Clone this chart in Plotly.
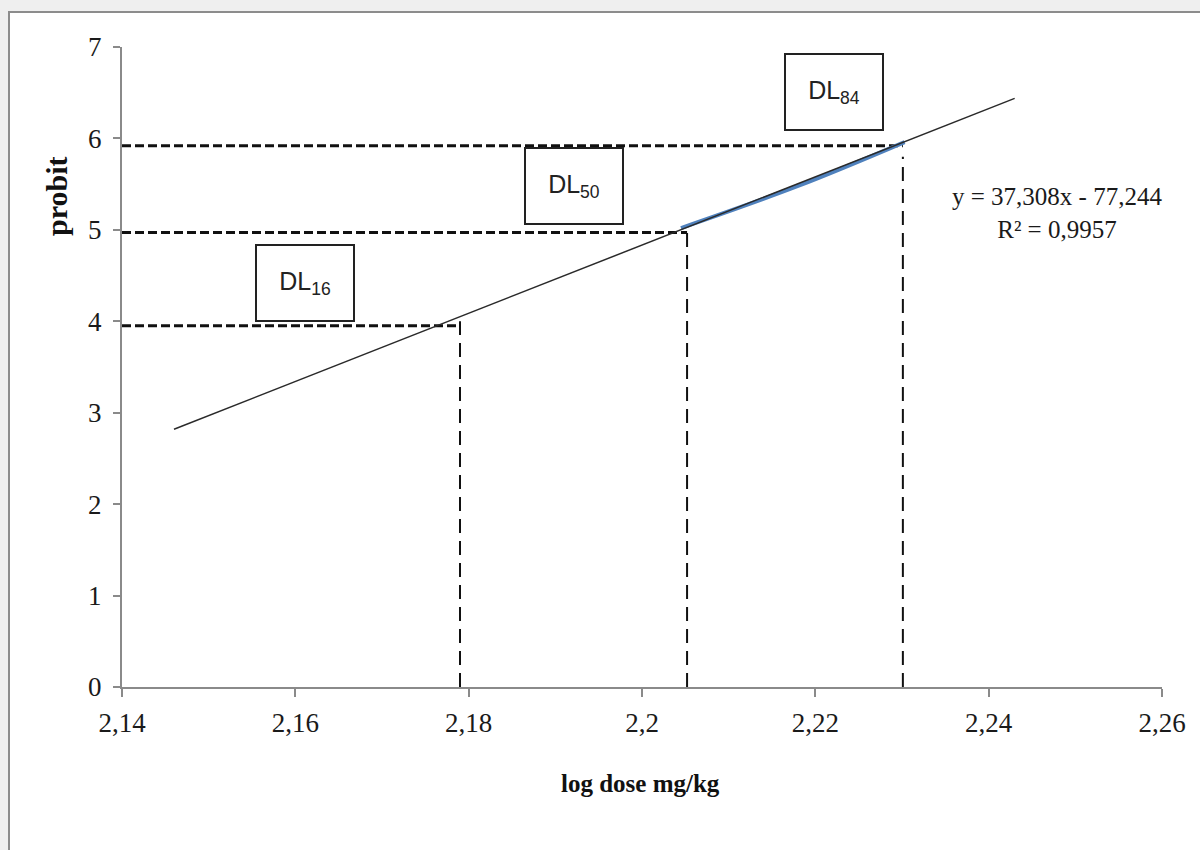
import plotly.graph_objects as go

# Probit regression fitted on log dose
slope = 37.308
intercept = -77.244
r_squared = 0.9957
fit_x_range = [2.146, 2.243]

# Observed probit segment (experimental points)
obs_x = [2.2045, 2.2180, 2.2303]
obs_y = [5.02, 5.48, 5.96]

# Reference levels: DL16, DL50, DL84
dl_names = ["16", "50", "84"]
dl_probit = [3.95, 4.97, 5.92]
dl_logdose = [2.179, 2.2052, 2.2301]
dl_vertical_top = [4.0, 4.97, 5.8]
dl_box_x = [2.1611, 2.1921, 2.2222]
dl_box_y = [4.42, 5.48, 6.51]

x_ticks = [2.14, 2.16, 2.18, 2.20, 2.22, 2.24, 2.26]
x_tick_text = ["2,14", "2,16", "2,18", "2,2", "2,22", "2,24", "2,26"]
y_ticks = [0, 1, 2, 3, 4, 5, 6, 7]


def fmt(v, nd):
    return f"{v:.{nd}f}".replace(".", ",")


fig = go.Figure()

# dashed guide lines
for yv, xv, top in zip(dl_probit, dl_logdose, dl_vertical_top):
    fig.add_trace(go.Scatter(x=[x_ticks[0], xv], y=[yv, yv], mode="lines",
                             line=dict(color="#111111", width=3, dash="9px,4px"),
                             hoverinfo="skip", showlegend=False))
    fig.add_trace(go.Scatter(x=[xv, xv], y=[0, top], mode="lines",
                             line=dict(color="#111111", width=2, dash="14px,8px"),
                             hoverinfo="skip", showlegend=False))

fig.add_trace(go.Scatter(x=obs_x, y=obs_y, mode="lines",
                         line=dict(color="#4f81bd", width=4, shape="spline"),
                         showlegend=False))

fit_y = [slope * x + intercept for x in fit_x_range]
fig.add_trace(go.Scatter(x=fit_x_range, y=fit_y, mode="lines",
                         line=dict(color="#2a2a2a", width=1.5),
                         showlegend=False))

annotations = []
for name, bx, by in zip(dl_names, dl_box_x, dl_box_y):
    annotations.append(dict(
        x=bx, y=by, xref="x", yref="y", showarrow=False,
        xanchor="center", yanchor="middle",
        text=f"DL<sub>{name}</sub>",
        font=dict(family="Liberation Sans Narrow, Arial Narrow, Liberation Sans",
                  size=25, color="#222222"),
        width=96, height=74, align="center", valign="middle",
        bordercolor="#222222", borderwidth=2, borderpad=0, bgcolor="white"))

annotations.append(dict(
    x=(1057 - 122) / 1040, y=(687 - 213) / 640, xref="paper", yref="paper",
    xanchor="center", yanchor="middle",
    showarrow=False, align="center",
    text=f"y = {fmt(slope, 3)}x - {fmt(-intercept, 3)}<br>R² = {fmt(r_squared, 4)}",
    font=dict(family="Liberation Serif, Times New Roman, serif", size=25, color="#1a1a1a")))

annotations.append(dict(
    x=(640 - 122) / 1040, y=(687 - 783) / 640, xref="paper", yref="paper",
    xanchor="center", yanchor="middle",
    showarrow=False, text="<b>log dose mg/kg</b>",
    font=dict(family="Liberation Serif, Times New Roman, serif", size=25, color="#111111")))

annotations.append(dict(
    x=(56 - 122) / 1040, y=(687 - 197) / 640, xref="paper", yref="paper",
    xanchor="center", yanchor="middle",
    showarrow=False, text="<b>probit</b>", textangle=-90,
    font=dict(family="Liberation Serif, Times New Roman, serif", size=30, color="#111111")))

# white sheet with grey border on a light grey background
shapes = [dict(type="rect", xref="paper", yref="paper", layer="below",
               x0=(9 - 122) / 1040, x1=(1230 - 122) / 1040,
               y0=(687 - 880) / 640, y1=(687 - 12) / 640,
               fillcolor="white", line=dict(color="#8c8c8c", width=2))]

tick_font = dict(family="Liberation Serif, Times New Roman, serif", size=27, color="#1a1a1a")

fig.update_layout(
    width=1200, height=850,
    margin=dict(l=122, r=38, t=47, b=163),
    paper_bgcolor="#efefef", plot_bgcolor="rgba(0,0,0,0)",
    shapes=shapes, annotations=annotations,
    xaxis=dict(range=[2.14, 2.26], tickvals=x_ticks, ticktext=x_tick_text,
               showgrid=False, zeroline=False, showline=True, linecolor="#8a8a8a",
               linewidth=2, ticks="outside", ticklen=8, tickcolor="#8a8a8a",
               tickwidth=1.5, tickfont=tick_font, ticklabelstandoff=3),
    yaxis=dict(range=[0, 7], tickvals=y_ticks, showgrid=False, zeroline=False,
               showline=True, linecolor="#8a8a8a", linewidth=2, ticks="outside",
               ticklen=7, tickcolor="#8a8a8a", tickwidth=1.5, tickfont=tick_font,
               ticklabelstandoff=6),
)

fig.write_html("out.html")
